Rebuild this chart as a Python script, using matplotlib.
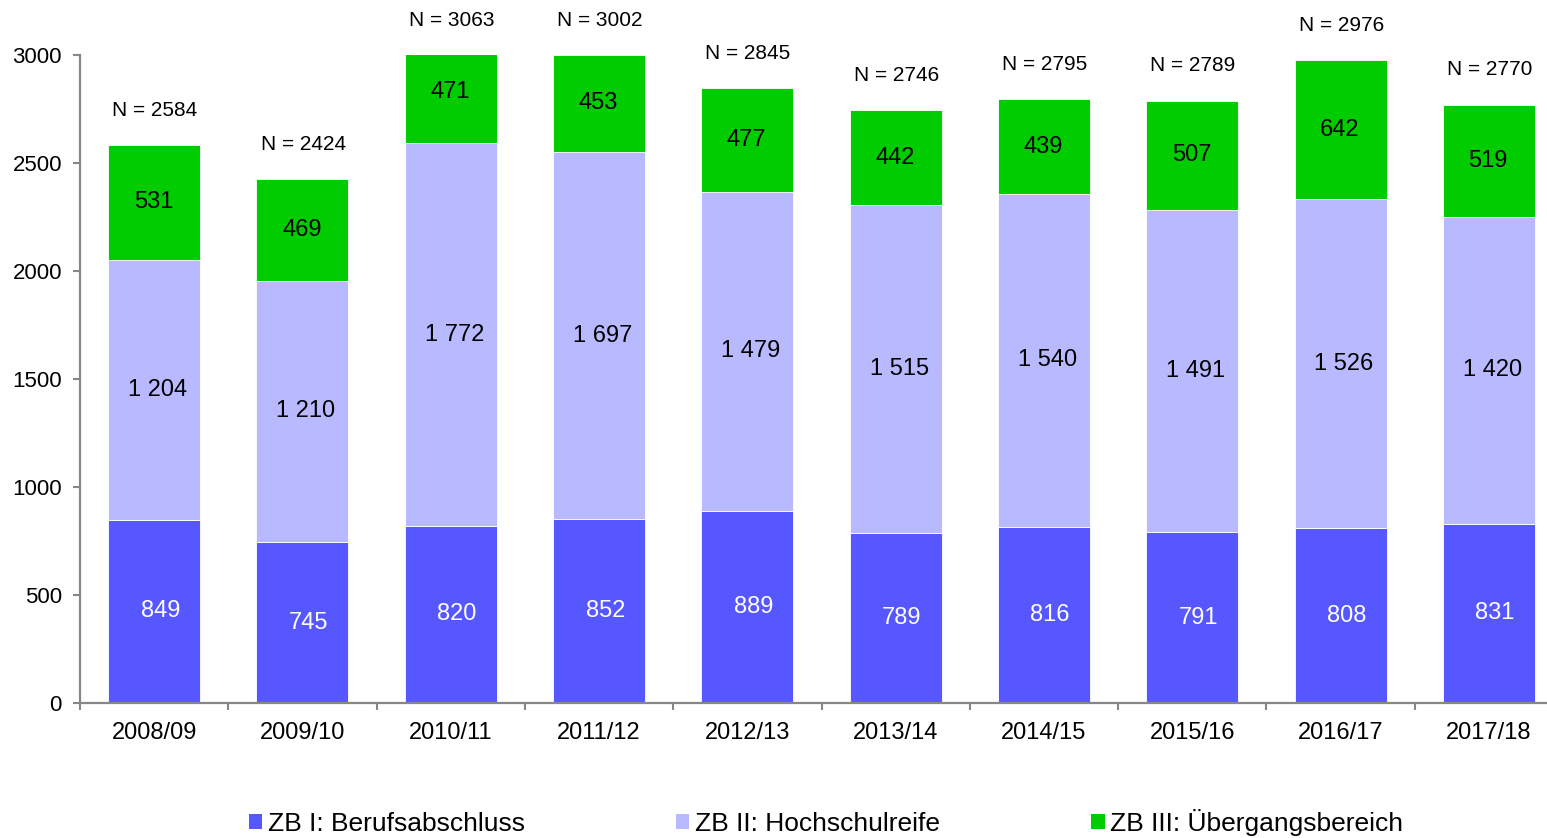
import matplotlib
matplotlib.use("Agg")
import matplotlib.pyplot as plt
from matplotlib.patches import Patch
import numpy as np

plt.rcParams['font.family'] = ['Liberation Sans', 'DejaVu Sans']

years = ["2008/09", "2009/10", "2010/11", "2011/12", "2012/13",
         "2013/14", "2014/15", "2015/16", "2016/17", "2017/18"]
zb1 = [849, 745, 820, 852, 889, 789, 816, 791, 808, 831]
zb2 = [1204, 1210, 1772, 1697, 1479, 1515, 1540, 1491, 1526, 1420]
zb3 = [531, 469, 471, 453, 477, 442, 439, 507, 642, 519]
totals = [2584, 2424, 3063, 3002, 2845, 2746, 2795, 2789, 2976, 2770]
series_names = ["ZB I: Berufsabschluss", "ZB II: Hochschulreife", "ZB III: Übergangsbereich"]
yticks = [0, 500, 1000, 1500, 2000, 2500, 3000]

c1, c2, c3 = "#5757FF", "#B9B9FF", "#00CC00"
spine_c = "#878787"

W, H = 1547, 838
fig = plt.figure(figsize=(W/100, H/100), dpi=100)
ax = fig.add_axes([80/W, (H-703)/H, 1483/W, 648/H])

x = np.arange(len(years))
bw = 0.62
a1 = np.array(zb1); a2 = np.array(zb2); a3 = np.array(zb3)
ax.bar(x, a1, bw, color=c1, edgecolor="white", linewidth=0.6)
ax.bar(x, a2, bw, bottom=a1, color=c2, edgecolor="white", linewidth=0.6)
ax.bar(x, a3, bw, bottom=a1+a2, color=c3, edgecolor="white", linewidth=0.6)

ax.set_xlim(-0.5, len(years)-0.5)
ax.set_ylim(0, 3000)

def fmt(v):
    return f"{v:,}".replace(",", " ")

for i in range(len(years)):
    ax.annotate(fmt(zb1[i]), (x[i], zb1[i]/2), xytext=(4.5, 0), textcoords="offset points",
                ha="center", va="center", fontsize=17, color="white", annotation_clip=False)
    ax.annotate(fmt(zb2[i]), (x[i], zb1[i]+zb2[i]/2), xytext=(2.5, 0), textcoords="offset points",
                ha="center", va="center", fontsize=17, color="black", annotation_clip=False)
    ax.annotate(fmt(zb3[i]), (x[i], zb1[i]+zb2[i]+zb3[i]/2), xytext=(-0.5, 0), textcoords="offset points",
                ha="center", va="center", fontsize=17, color="black", annotation_clip=False)
    top = min(zb1[i]+zb2[i]+zb3[i], 3000)
    ax.annotate(f"N = {totals[i]}", (x[i], top), xytext=(0.5, 25), textcoords="offset points",
                ha="center", va="center", fontsize=15, color="black", annotation_clip=False)

for s in ["top", "right"]:
    ax.spines[s].set_visible(False)
for s in ["left", "bottom"]:
    ax.spines[s].set_color(spine_c)
    ax.spines[s].set_linewidth(1.6)

ax.set_yticks(yticks)
ax.set_yticklabels([str(v) for v in yticks])
ax.tick_params(axis="y", direction="out", length=5, width=1.5, color=spine_c,
               labelsize=16, pad=8)
ax.set_xticks(x)
ax.set_xticklabels(years)
ax.tick_params(axis="x", which="major", length=0, labelsize=17, pad=14)
ax.set_xticks(np.arange(-0.5, len(years)), minor=True)
ax.tick_params(axis="x", which="minor", direction="out", length=5, width=1.5, color=spine_c)

handles = [Patch(facecolor=c, edgecolor="none") for c in (c1, c2, c3)]
fig.legend(handles, series_names, loc="center", bbox_to_anchor=(826/W, (H-822)/H),
           ncol=3, frameon=False, fontsize=19, handlelength=0.5, handleheight=0.5,
           handletextpad=0.2, columnspacing=5.75, borderpad=0)

fig.savefig("out.png", dpi=100)
